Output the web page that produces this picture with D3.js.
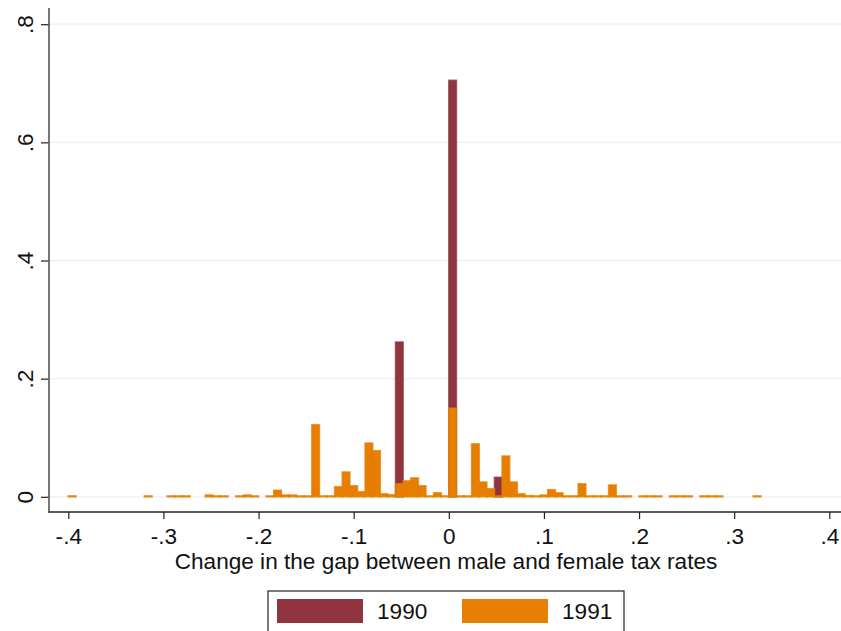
<!DOCTYPE html>
<html>
<head>
<meta charset="utf-8">
<script src="https://cdn.jsdelivr.net/npm/d3@7"></script>
<style>
  body { margin: 0; background: #fff; }
  svg { display: block; font-family: "Liberation Sans", Arial, sans-serif; }
</style>
</head>
<body>
<div id="chart-area"></div>
<script>
// histogram bins: left edge of each bin, bin width 0.008
var binWidth = 0.008;

// 1990 (fraction)
var edges1990 = [-0.056, 0.000, 0.048];
var values1990 = [0.262, 0.705, 0.033];

// 1991 (fraction)
var edges1991 = [-0.400, -0.320, -0.296, -0.288, -0.280, -0.256, -0.248, -0.240,
    -0.224, -0.216, -0.208, -0.192, -0.184, -0.176, -0.168, -0.160, -0.152, -0.144,
    -0.136, -0.128, -0.120, -0.112, -0.104, -0.096, -0.088, -0.080, -0.072, -0.064,
    -0.056, -0.048, -0.040, -0.032, -0.024, -0.016, -0.008, 0.000, 0.008, 0.016,
    0.024, 0.032, 0.040, 0.048, 0.056, 0.064, 0.072, 0.080, 0.088, 0.096, 0.104,
    0.112, 0.120, 0.128, 0.136, 0.144, 0.152, 0.160, 0.168, 0.176, 0.184, 0.200,
    0.208, 0.216, 0.232, 0.240, 0.248, 0.264, 0.272, 0.280, 0.320];
var values1991 = [0.0015, 0.0015, 0.0015, 0.0015, 0.0015, 0.003, 0.0015, 0.0015,
    0.0015, 0.003, 0.0015, 0.0015, 0.011, 0.003, 0.003, 0.0015, 0.0015, 0.122,
    0.0015, 0.0015, 0.017, 0.042, 0.0186, 0.0085, 0.091, 0.078, 0.005, 0.0034,
    0.022, 0.027, 0.032, 0.0186, 0.0015, 0.0068, 0.0015, 0.150, 0.0015, 0.0015,
    0.0896, 0.025, 0.0135, 0.0015, 0.069, 0.025, 0.005, 0.002, 0.0015, 0.003, 0.012,
    0.0068, 0.0015, 0.0015, 0.022, 0.0015, 0.0015, 0.0015, 0.020, 0.0015, 0.0015, 0.0015,
    0.0015, 0.0015, 0.0015, 0.0015, 0.0015, 0.0015, 0.0015, 0.0015, 0.0015];

var xTicks = [-0.4, -0.3, -0.2, -0.1, 0, 0.1, 0.2, 0.3, 0.4];
var yTicks = [0, 0.2, 0.4, 0.6, 0.8];
var seriesNames = ["1990", "1991"];
var seriesColors = ["#90353f", "#e57e01"];

var width = 841, height = 631;
var fontSize = "22.6px";

var svg = d3.select("#chart-area").append("svg")
    .attr("width", width)
    .attr("height", height);

var x = d3.scaleLinear().domain([-0.4, 0.4]).range([68.3, 829.3]);
var y = d3.scaleLinear().domain([0, 0.8]).range([496.8, 24.2]);

var plotLeft = 49, plotRight = 841, plotTop = 8, plotBottom = 512;

// Stata style labels: "-.4", ".2", "0"
function stataFmt(d) {
    if (d === 0) return "0";
    return d3.format(".1f")(d).replace("\u2212", "-").replace("0.", ".");
}

// gridlines
svg.append("g").selectAll("line")
    .data(yTicks)
    .enter().append("line")
        .attr("x1", plotLeft)
        .attr("x2", plotRight)
        .attr("y1", function(d){ return y(d); })
        .attr("y2", function(d){ return y(d); })
        .attr("stroke", "#eaf0f1")
        .attr("stroke-width", 1.3);

function drawBars(edges, values, color) {
    var rows = edges.map(function(e, i){ return { x0: e, v: values[i] }; });
    svg.append("g").selectAll("rect")
        .data(rows)
        .enter().append("rect")
            .attr("x", function(d){ return x(d.x0); })
            .attr("width", function(d){ return x(d.x0 + binWidth) - x(d.x0); })
            .attr("y", function(d){ return y(d.v); })
            .attr("height", function(d){ return y(0) - y(d.v); })
            .attr("fill", color)
            .attr("stroke", color)
            .attr("stroke-width", 1.6)
            .attr("stroke-opacity", 0.75);
}

drawBars(edges1990, values1990, seriesColors[0]);
drawBars(edges1991, values1991, seriesColors[1]);

// x axis
var xAxis = d3.axisBottom(x)
    .tickValues(xTicks)
    .tickFormat(stataFmt)
    .tickSize(7)
    .tickSizeOuter(0);

var gx = svg.append("g")
    .attr("transform", "translate(0," + plotBottom + ")")
    .call(xAxis);
gx.select(".domain").remove();
gx.selectAll(".tick line").attr("stroke", "#222").attr("stroke-width", 1.2);
gx.selectAll(".tick text")
    .attr("font-size", fontSize)
    .attr("fill", "#111")
    .attr("dy", "0.98em")
    .attr("font-family", "Liberation Sans, Arial, sans-serif");
svg.append("line")
    .attr("x1", plotLeft - 1).attr("x2", plotRight)
    .attr("y1", plotBottom).attr("y2", plotBottom)
    .attr("stroke", "#222").attr("stroke-width", 1.4);

// y axis
var yAxis = d3.axisLeft(y)
    .tickValues(yTicks)
    .tickFormat(stataFmt)
    .tickSize(8)
    .tickSizeOuter(0);

var gy = svg.append("g")
    .attr("transform", "translate(" + plotLeft + ",0)")
    .call(yAxis);
gy.select(".domain").remove();
gy.selectAll(".tick line").attr("stroke", "#222").attr("stroke-width", 1.2);
gy.selectAll(".tick text")
    .attr("font-size", fontSize)
    .attr("fill", "#111")
    .attr("x", null)
    .attr("dy", null)
    .attr("text-anchor", "middle")
    .attr("transform", "translate(-16,0) rotate(-90)")
    .attr("font-family", "Liberation Sans, Arial, sans-serif");
svg.append("line")
    .attr("x1", plotLeft).attr("x2", plotLeft)
    .attr("y1", plotTop).attr("y2", plotBottom)
    .attr("stroke", "#555").attr("stroke-width", 1.6);

// x title
svg.append("text")
    .attr("x", 446)
    .attr("y", 569)
    .attr("text-anchor", "middle")
    .attr("font-size", fontSize)
    .attr("fill", "#111")
    .text("Change in the gap between male and female tax rates");

// legend
var legend = svg.append("g");
legend.append("rect")
    .attr("x", 268).attr("y", 591)
    .attr("width", 356).attr("height", 50)
    .attr("fill", "#fff")
    .attr("stroke", "#222")
    .attr("stroke-width", 1.2);

var legX = [277, 462];
seriesNames.forEach(function(name, i){
    legend.append("rect")
        .attr("x", legX[i]).attr("y", 599)
        .attr("width", 86).attr("height", 24)
        .attr("fill", seriesColors[i]);
    legend.append("text")
        .attr("x", legX[i] + 100)
        .attr("y", 619)
        .attr("font-size", fontSize)
        .attr("fill", "#111")
        .text(name);
});
</script>
</body>
</html>
